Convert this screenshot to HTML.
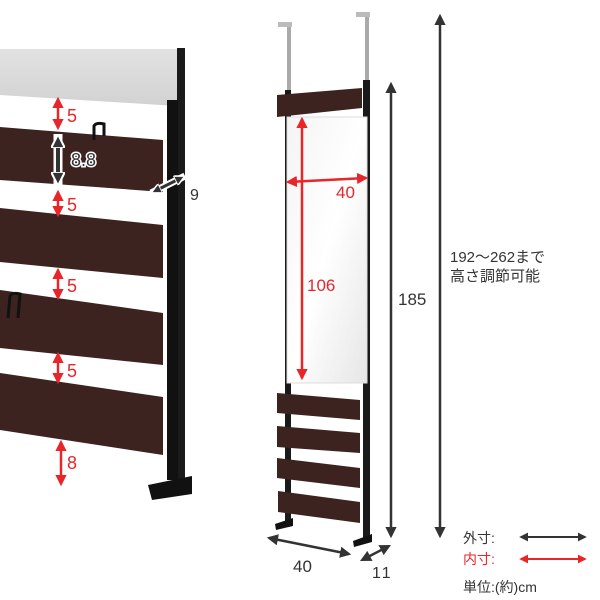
<!DOCTYPE html>
<html><head><meta charset="utf-8"><style>
body{margin:0;background:#fff}
svg{display:block}
text{font-family:"Liberation Sans","Noto Sans CJK JP",sans-serif}
</style></head><body>
<svg width="600" height="600" viewBox="0 0 600 600" xmlns="http://www.w3.org/2000/svg">
<defs>
<marker id="ar" viewBox="0 0 10 10" refX="8" refY="5" markerWidth="4.5" markerHeight="4.5" orient="auto-start-reverse"><path d="M0,0L10,5L0,10z" fill="#e8262a"/></marker>
<marker id="ak" viewBox="0 0 10 10" refX="8" refY="5" markerWidth="4.5" markerHeight="4.5" orient="auto-start-reverse"><path d="M0,0L10,5L0,10z" fill="#333"/></marker>
<marker id="akb" viewBox="0 0 10 10" refX="8" refY="5" markerWidth="3.5" markerHeight="3.5" orient="auto-start-reverse"><path d="M0,0L10,5L0,10z" fill="#333" stroke="#fff" stroke-width="1.5"/></marker>
<linearGradient id="mg" x1="0" y1="0" x2="1" y2="1"><stop offset="0" stop-color="#f4f4f4"/><stop offset="0.5" stop-color="#fff"/><stop offset="1" stop-color="#e6e6e6"/></linearGradient>
<linearGradient id="lg" x1="0" y1="0" x2="0" y2="1"><stop offset="0" stop-color="#e2e2e2"/><stop offset="1" stop-color="#d2d2d2"/></linearGradient>
</defs>
<!-- LEFT DETAIL -->
<polygon points="0,49 177,49 177,106 0,95" fill="url(#lg)"/>
<rect x="177" y="48" width="8" height="432" fill="#1a1a1a"/>
<rect x="167" y="100" width="11" height="380" fill="#111"/>
<polygon points="148,485 192,476 192,494 152,500" fill="#111"/>
<polygon points="0,127 163,140 163,192 0,180" fill="#3c2320"/>
<polygon points="0,208 163,225 163,278 0,262" fill="#3c2320"/>
<polygon points="0,290 163,313 163,365 0,348" fill="#3c2320"/>
<polygon points="0,373 163,397 163,455 0,430" fill="#3c2320"/>
<path d="M94,140 L94,126 Q96,122 104,124 L104,136" stroke="#111" stroke-width="3" fill="none"/>
<path d="M8,318 L10,296 Q12,292 20,294 L18,318" stroke="#111" stroke-width="3" fill="none"/>
<line x1="58" y1="99" x2="58" y2="128" stroke="#e8262a" stroke-width="2.5" marker-start="url(#ar)" marker-end="url(#ar)"/>
<text x="67" y="122" font-size="18" fill="#e8262a">5</text>
<line x1="58" y1="134" x2="58" y2="186" stroke="#fff" stroke-width="9"/>
<line x1="58" y1="137" x2="58" y2="183" stroke="#333" stroke-width="4" marker-start="url(#akb)" marker-end="url(#akb)"/>
<text x="71" y="166" font-size="18" fill="#333" stroke="#fff" stroke-width="3" paint-order="stroke">8.8</text>
<line x1="58" y1="192" x2="58" y2="215" stroke="#e8262a" stroke-width="2.5" marker-start="url(#ar)" marker-end="url(#ar)"/>
<text x="67" y="211" font-size="18" fill="#e8262a">5</text>
<line x1="58" y1="270" x2="58" y2="298" stroke="#e8262a" stroke-width="2.5" marker-start="url(#ar)" marker-end="url(#ar)"/>
<text x="67" y="292" font-size="18" fill="#e8262a">5</text>
<line x1="58" y1="354" x2="58" y2="382" stroke="#e8262a" stroke-width="2.5" marker-start="url(#ar)" marker-end="url(#ar)"/>
<text x="67" y="377" font-size="18" fill="#e8262a">5</text>
<line x1="61" y1="442" x2="61" y2="484" stroke="#e8262a" stroke-width="2.5" marker-start="url(#ar)" marker-end="url(#ar)"/>
<text x="67" y="469" font-size="18" fill="#e8262a">8</text>
<line x1="151" y1="193" x2="185" y2="176" stroke="#fff" stroke-width="7"/>
<line x1="153" y1="192" x2="183" y2="177" stroke="#333" stroke-width="3" marker-start="url(#akb)" marker-end="url(#akb)"/>
<text x="190" y="200" font-size="16" fill="#333">9</text>
<!-- RIGHT PRODUCT -->
<rect x="278" y="22" width="14" height="5" fill="#bbb"/><rect x="287" y="27" width="4" height="64" fill="#aaa"/>
<rect x="356" y="12" width="14" height="5" fill="#bbb"/><rect x="365" y="17" width="4" height="64" fill="#aaa"/>
<rect x="285" y="90" width="6" height="432" fill="#1a1a1a"/>
<rect x="363" y="80" width="7" height="460" fill="#1a1a1a"/>
<polygon points="277,95 362,88 362,108 277,117" fill="#3c2320"/>
<rect x="287" y="117" width="80" height="266" fill="url(#mg)" stroke="#ddd"/>
<polygon points="277,393 360,400 360,420 277,413" fill="#3c2320"/>
<polygon points="277,426 360,433 360,453 277,447" fill="#3c2320"/>
<polygon points="277,458 360,468 360,488 277,478" fill="#3c2320"/>
<polygon points="278,491 360,502 360,523 278,512" fill="#3c2320"/>
<polygon points="275,524 293,518 293,526 276,530" fill="#111"/>
<polygon points="353,541 372,534 372,542 354,547" fill="#111"/>
<line x1="302" y1="119" x2="302" y2="378" stroke="#e8262a" stroke-width="2.5" marker-start="url(#ar)" marker-end="url(#ar)"/>
<text x="307" y="291" font-size="17" fill="#e8262a">106</text>
<line x1="288" y1="182" x2="366" y2="178" stroke="#e8262a" stroke-width="2.5" marker-start="url(#ar)" marker-end="url(#ar)"/>
<text x="336" y="198" font-size="17" fill="#e8262a">40</text>
<line x1="391" y1="84" x2="391" y2="536" stroke="#333" stroke-width="2.5" marker-start="url(#ak)" marker-end="url(#ak)"/>
<text x="398" y="305" font-size="17" fill="#333">185</text>
<line x1="440" y1="16" x2="440" y2="536" stroke="#333" stroke-width="2.5" marker-start="url(#ak)" marker-end="url(#ak)"/>
<text x="450" y="262" font-size="15" fill="#333">192～262まで</text>
<text x="450" y="281" font-size="15" fill="#333">高さ調節可能</text>
<line x1="269" y1="538" x2="349" y2="554" stroke="#333" stroke-width="2.5" marker-start="url(#ak)" marker-end="url(#ak)"/>
<text x="293" y="572" font-size="17" fill="#333">40</text>
<line x1="362" y1="560" x2="389" y2="546" stroke="#333" stroke-width="2.5" marker-start="url(#ak)" marker-end="url(#ak)"/>
<text x="372" y="578" font-size="16" fill="#333" letter-spacing="2">11</text>
<text x="463" y="543" font-size="14" fill="#333">外寸:</text>
<line x1="521" y1="537" x2="585" y2="537" stroke="#333" stroke-width="2" marker-start="url(#ak)" marker-end="url(#ak)"/>
<text x="463" y="564" font-size="14" fill="#e8262a">内寸:</text>
<line x1="521" y1="559" x2="585" y2="559" stroke="#e8262a" stroke-width="2" marker-start="url(#ar)" marker-end="url(#ar)"/>
<text x="463" y="592" font-size="14" fill="#333">単位:(約)cm</text>
</svg>
</body></html>
